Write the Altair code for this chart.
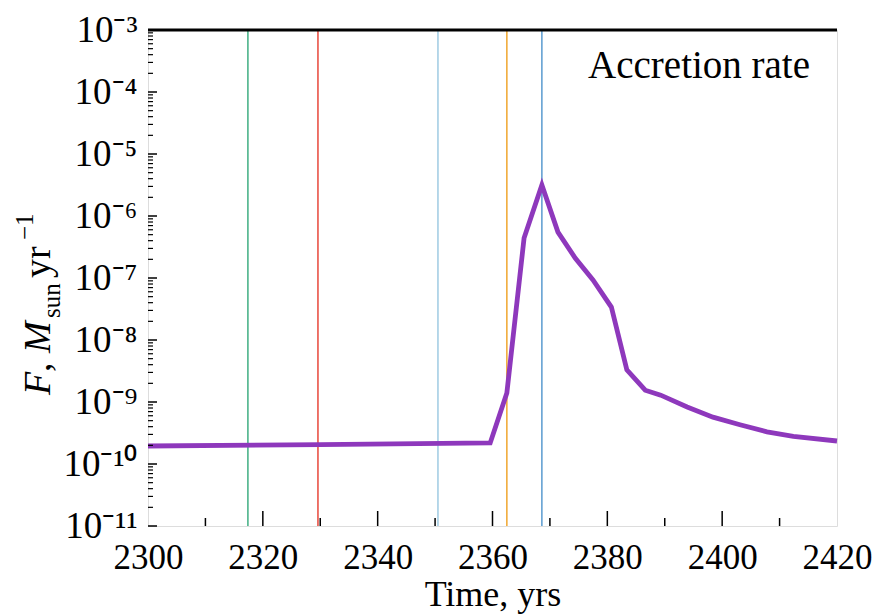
import altair as alt
import pandas as pd

# ---- data ----
time_yr = [2300, 2330, 2359.6, 2362.5, 2365.5, 2368.6, 2371.4, 2374.4, 2377.5,
           2380.7, 2383.4, 2386.6, 2389.3, 2393.9, 2398.4, 2403.1, 2407.8, 2412.4, 2420]
accretion = [1.95e-10, 2.05e-10, 2.19e-10, 1.40e-9, 4.4e-7, 3.16e-6, 5.5e-7, 2.1e-7, 9.3e-8,
             3.4e-8, 3.3e-9, 1.55e-9, 1.29e-9, 8.3e-10, 5.7e-10, 4.3e-10, 3.3e-10, 2.8e-10, 2.35e-10]

vline_t = [2317.4, 2329.6, 2350.5, 2362.5, 2368.6]
vline_colors = ["#3fae82", "#e8473a", "#9fcbe3", "#f0a62e", "#5a9bcf"]

x_label_values = [2300, 2320, 2340, 2360, 2380, 2400, 2420]
x_major_ticks = [2320, 2340, 2360, 2380, 2400]
x_minor_ticks = [2310, 2330, 2350, 2370, 2390, 2410]
y_decades = [1e-11, 1e-10, 1e-9, 1e-8, 1e-7, 1e-6, 1e-5, 1e-4, 1e-3]
y_minor_ticks = [m * d for d in y_decades[:-1] for m in range(2, 10)]

W, H = 689, 496
FONT = "Liberation Serif"
XDOM = [2300, 2420]
YDOM = [1e-11, 1e-3]

sup_expr = ("'10⁻' + (abs(round(log(datum.value)/LN10)) >= 10 ? '¹' : '') + "
            "['⁰','¹','²','³','⁴','⁵','⁶','⁷','⁸','⁹'][abs(round(log(datum.value)/LN10)) % 10]")

x_axis = alt.Axis(values=x_label_values, ticks=False, grid=False, domain=False, format="d",
                  labelFont=FONT, labelFontSize=35, labelColor="black", labelPadding=14,
                  labelFlush=False, labelOverlap=False,
                  title="Time, yrs", titleFont=FONT, titleFontSize=36, titleFontWeight="normal",
                  titleColor="black", titlePadding=2)
y_axis = alt.Axis(values=y_decades, ticks=False, grid=False, domain=False,
                  labelFont=FONT, labelFontSize=37, labelColor="black", labelPadding=11,
                  labelExpr=sup_expr, labelOverlap=False, labelFlush=False, title="")


def X(field):
    return alt.X(f"{field}:Q", scale=alt.Scale(domain=XDOM, nice=False, zero=False), axis=x_axis)


def Y(field):
    return alt.Y(f"{field}:Q", scale=alt.Scale(type="log", domain=YDOM, nice=False), axis=y_axis)


vdf = pd.DataFrame({"t": vline_t, "c": vline_colors})
vlines = alt.Chart(vdf).mark_rule(strokeWidth=1.5).encode(
    x=X("t"), color=alt.Color("c:N", scale=None)
)

ldf = pd.DataFrame({"time": time_yr, "F": accretion})
line = alt.Chart(ldf).mark_line(color="#8e38bc", strokeWidth=4.8).encode(
    x=X("time"), y=Y("F")
)

ymaj = alt.Chart(pd.DataFrame({"v": y_decades})).mark_rule(color="black", strokeWidth=1.5).encode(
    y=Y("v"), x=alt.value(0), x2=alt.value(9)
)
ymin = alt.Chart(pd.DataFrame({"v": y_minor_ticks})).mark_rule(color="black", strokeWidth=1.2).encode(
    y=Y("v"), x=alt.value(0), x2=alt.value(5)
)
xmaj = alt.Chart(pd.DataFrame({"v": x_major_ticks})).mark_rule(color="black", strokeWidth=1.5).encode(
    x=X("v"), y=alt.value(H), y2=alt.value(H - 15)
)
xmin = alt.Chart(pd.DataFrame({"v": x_minor_ticks})).mark_rule(color="black", strokeWidth=1.5).encode(
    x=X("v"), y=alt.value(H), y2=alt.value(H - 8)
)
top = alt.Chart(pd.DataFrame({"a": [0]})).mark_rule(color="black", strokeWidth=3).encode(
    x=alt.value(0), x2=alt.value(W), y=alt.value(0)
)

label = alt.Chart(pd.DataFrame({"s": ["Accretion rate"]})).mark_text(
    font=FONT, fontSize=39, align="right", baseline="alphabetic", color="black"
).encode(text="s:N", x=alt.value(662), y=alt.value(48))

# y-axis title pieces (rotated), from bottom to top
title_parts = [
    ("F", "italic", 38, 0, 365),
    (",", "normal", 38, 0, 342),
    ("M", "italic", 38, 0, 323),
    ("sun", "normal", 25, 10, 288),
    ("yr", "normal", 38, 0, 248),
    ("−1", "normal", 25, -17, 210),
]
title_layers = []
for txt, style, size, shift, ypos in title_parts:
    title_layers.append(
        alt.Chart(pd.DataFrame({"s": [txt]})).mark_text(
            font=FONT, fontSize=size, fontStyle=style, angle=270, align="left",
            baseline="alphabetic", color="black"
        ).encode(text="s:N", x=alt.value(-98 + shift), y=alt.value(ypos))
    )

chart = alt.layer(vlines, line, ymaj, ymin, xmaj, xmin, top, label, *title_layers).properties(
    width=W, height=H,
    autosize=alt.AutoSizeParams(type="none"),
    padding={"left": 148, "top": 30, "right": 51, "bottom": 90},
).configure_view(stroke="#333333", strokeWidth=1.2).configure_axis(
    labelFont=FONT, titleFont=FONT
).configure(background="white")

chart.save("out.html", embed_options={"renderer": "svg", "actions": False})
